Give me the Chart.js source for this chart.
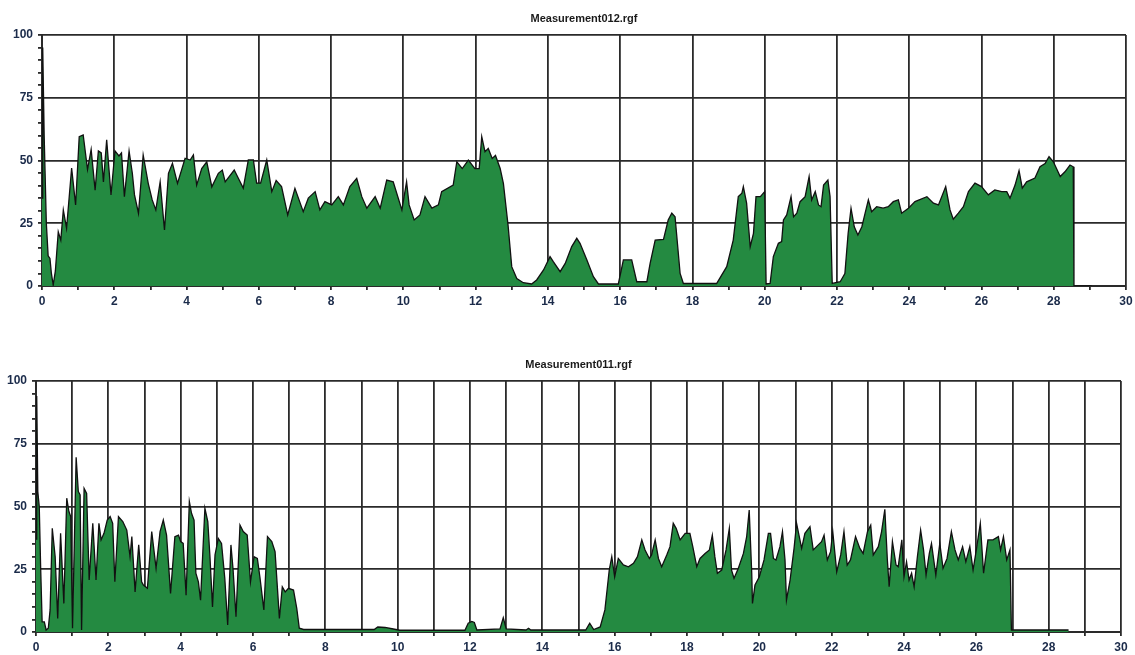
<!DOCTYPE html>
<html>
<head>
<meta charset="utf-8">
<script src="https://cdn.jsdelivr.net/npm/chart.js@4.4.1/dist/chart.umd.min.js"></script>
<style>
  html, body { margin: 0; padding: 0; background: #ffffff; overflow: hidden; }
  body { width: 1135px; height: 655px; position: relative; }
  canvas { position: absolute; left: 0; }
  #c1 { top: 0; }
  #c2 { top: 346px; }
</style>
</head>
<body>
<canvas id="c1" width="1162" height="318"></canvas>
<canvas id="c2" width="1157" height="315"></canvas>
<script>
// ---------- data ----------
const titleTop = "Measurement012.rgf";
const titleBottom = "Measurement011.rgf";

const topTime = [0,0.02,0.06,0.12,0.17,0.22,0.26,0.31,0.37,0.45,0.52,0.59,0.68,0.82,0.93,1.03,1.14,1.26,1.36,1.47,1.56,1.64,1.70,1.79,1.91,2.02,2.13,2.20,2.28,2.41,2.50,2.56,2.67,2.80,2.94,3.05,3.15,3.27,3.39,3.50,3.61,3.75,3.96,4.10,4.19,4.28,4.42,4.56,4.70,4.88,4.99,5.07,5.32,5.43,5.57,5.71,5.85,5.94,6.05,6.22,6.36,6.48,6.63,6.80,7.00,7.23,7.37,7.56,7.69,7.83,8.02,8.20,8.34,8.52,8.71,8.85,8.99,9.22,9.36,9.54,9.72,9.96,10.09,10.16,10.30,10.46,10.60,10.79,10.97,11.06,11.38,11.48,11.63,11.80,11.98,12.10,12.17,12.26,12.35,12.46,12.55,12.68,12.77,12.90,13.00,13.14,13.32,13.55,13.69,13.88,14.06,14.15,14.34,14.48,14.66,14.80,14.89,15.08,15.26,15.40,15.95,16.09,16.32,16.46,16.74,16.83,16.97,17.20,17.33,17.43,17.52,17.66,17.75,18.67,18.95,19.13,19.27,19.37,19.41,19.50,19.60,19.69,19.76,19.88,20.00,20.04,20.15,20.24,20.38,20.47,20.52,20.61,20.73,20.80,20.89,20.98,21.12,21.23,21.30,21.40,21.49,21.56,21.63,21.75,21.81,21.87,22.09,22.22,22.31,22.39,22.48,22.58,22.69,22.78,22.87,22.96,23.10,23.28,23.42,23.56,23.70,23.79,23.98,24.16,24.49,24.67,24.81,25.01,25.13,25.22,25.36,25.50,25.64,25.82,26.00,26.19,26.37,26.56,26.70,26.79,26.93,27.04,27.13,27.25,27.48,27.62,27.76,27.87,27.99,28.18,28.31,28.45,28.54,28.56,29.05];
const topLevel = [35,95,60,25,12,11,5,0.4,6,21.6,18.3,30.3,23,47,32.3,59.5,60.2,46.4,54.4,38.2,53.8,53,41.5,58.2,36.3,53.8,51.8,53,35.6,53.8,44.9,36.3,29,52.2,40.9,34.3,30.3,41.5,22.3,44.9,48.9,40.9,50.9,50.2,52.2,40.2,46.8,49.5,39.5,44.9,46.2,41.5,46.2,43,39,50.2,50.2,41,41,50.2,37.6,42,39.6,28.3,38.9,29.6,35,37.6,30.3,33.6,32.3,35.6,32.3,39.6,42.9,35.6,31,35.6,31,42.2,41.5,30.3,41.5,32.3,26.3,28.3,35.6,31,32.3,37.6,40.2,49.5,46.8,50.2,46.8,46.8,59.5,53.5,54.8,50.8,52,46.8,40.8,24,7.7,3,1.3,0.8,2.4,6.4,11.7,9.7,5.7,9,15.7,19,17,10.4,3.7,0.8,0.8,10.4,10.4,1.7,1.7,9,18.3,18.6,26.3,29,27.6,5,1,1,7.7,18.3,35.6,37,39.6,33,15.7,21,35.6,35.6,37.6,0.8,1,11.7,17,17.7,26.3,28.3,35.6,27.6,29,33.6,35.6,43.6,34.3,37.6,32.3,31.6,40.2,42.2,35.6,1,1.7,5,21,31,23.6,20.3,23.6,29,34.3,29.6,31.6,31,31.6,33.6,34.3,29,31,33.6,35.6,33,32.3,39.6,30.3,26.6,29,31.6,37.6,41,39.6,36.3,38.3,37.6,37.6,35,40.2,46,39,41.5,43,47.5,48.8,51.5,49.5,43.6,45.5,48.2,47.5,0,0];

const bottomTime = [0,0.02,0.05,0.09,0.13,0.17,0.23,0.28,0.34,0.39,0.45,0.53,0.60,0.68,0.77,0.85,0.91,0.96,1.01,1.11,1.17,1.22,1.26,1.33,1.40,1.47,1.57,1.66,1.74,1.80,1.88,1.97,2.05,2.12,2.18,2.28,2.40,2.51,2.60,2.65,2.74,2.84,2.92,2.97,3.08,3.20,3.32,3.43,3.52,3.61,3.72,3.84,3.94,4.00,4.07,4.15,4.24,4.30,4.37,4.42,4.49,4.55,4.67,4.75,4.81,4.88,4.95,5.04,5.13,5.22,5.30,5.39,5.45,5.53,5.64,5.73,5.84,5.93,6.03,6.12,6.19,6.30,6.40,6.52,6.61,6.73,6.81,6.89,6.98,7.12,7.21,7.28,7.40,9.35,9.45,9.65,9.88,10.06,11.86,11.95,12.05,12.12,12.19,12.83,12.92,13.00,13.55,13.62,13.68,15.20,15.31,15.42,15.60,15.73,15.85,15.92,16.00,16.10,16.24,16.38,16.52,16.63,16.75,16.84,16.96,17.02,17.12,17.21,17.30,17.44,17.53,17.62,17.70,17.81,17.95,18.08,18.16,18.27,18.36,18.50,18.62,18.70,18.77,18.84,18.96,19.08,19.17,19.23,19.30,19.42,19.56,19.65,19.72,19.79,19.81,19.88,20.00,20.13,20.25,20.31,20.39,20.46,20.57,20.64,20.71,20.75,20.85,20.96,21.03,21.17,21.26,21.40,21.49,21.63,21.72,21.79,21.88,21.97,22.03,22.14,22.25,22.34,22.43,22.52,22.66,22.78,22.87,22.99,23.08,23.15,23.29,23.38,23.47,23.54,23.59,23.68,23.78,23.84,23.94,24.00,24.07,24.14,24.21,24.28,24.37,24.46,24.54,24.61,24.70,24.76,24.88,24.99,25.08,25.19,25.31,25.41,25.50,25.62,25.71,25.82,25.91,26.00,26.11,26.20,26.32,26.46,26.61,26.67,26.75,26.84,26.93,26.97,28.55];
const bottomLevel = [37,94,56,50,25,4,4,0.8,1.5,8.8,41.3,30,5.4,39.3,11.4,53.3,48,46,1.5,69.6,56,54.6,0.8,57.2,55.2,20.7,43.3,20.7,43.3,36.7,39.3,44.6,46,43.3,20,46,44,40.6,30,38,16,34.7,20,18.7,17.4,40,25.4,40,44.6,38.6,15.4,38,38.6,36,35.3,14.7,52,47.3,44.6,23.4,20,12.7,49.3,44,30,10,30.7,37.3,35.3,21.4,2.8,34.7,24.7,6.1,42.6,40,38.6,20,30,29.3,22,8.8,38,36,32,5.4,18,16,17.4,16.7,9.4,1.5,1,1,2,1.8,1.2,0.7,0.7,3.5,4.2,3.8,0.8,1.2,5.7,1.2,0.8,1.5,0.8,0.8,3.5,1,2,8.8,24.7,30,22,29.3,26.7,26,27.4,30,36.7,32.7,29.3,30.7,36.7,29.3,26,30.7,34,43.3,41.3,36.7,39.3,39.3,34,26,29.3,31.3,32.7,38.6,30,23.4,24.7,32.7,41.3,24.7,21.4,25.4,31.3,38,48.6,23.4,11.4,18.7,22,28.7,39.3,39.3,29.3,28.7,34,40,28.7,12.7,20.7,33.3,43.3,33.3,39.3,42,32.7,34.7,36,38.6,28.7,32,40,24,30.7,40,26.7,28.7,38,33.3,31.3,40,42.6,30.7,34,40,48.9,28.7,18,36,26.7,26,36.7,22,28,20.7,23.4,18,30,40.6,32.7,22.7,31.3,35.3,22.7,35.3,25.4,29.3,40,32.7,28.7,34,28,34,24.7,32.7,43.3,23.4,36.7,36.7,38,32.7,38,28.7,32.7,0.8,0.8];

const yMajorStep = 25;    // labelled y ticks: 0, 25, 50, 75, 100
const yMinorStep = 5;     // small tick marks on the y axis
const xLabelStep = 2;     // labelled x ticks: 0, 2, ..., 30
const topGridStep = 2;    // vertical grid spacing, upper chart
const bottomGridStep = 1; // vertical grid spacing, lower chart

// ---------- styling ----------
Chart.defaults.font.family = "'Liberation Sans', Arial, sans-serif";
const GRID = '#2a2a2a';
const LABEL = '#1b2b4a';
const FILL = '#248a41';
const AXIS_W = 36; // width reserved for the y axis (mirrored on the right so the title centres over the plot)

function toPoints(xs, ys) { return xs.map((x, i) => ({ x: x, y: ys[i] })); }

function makeChart(id, title, xs, ys, gridStep, padL, padB) {
  const near = (v, s) => Math.abs(v / s - Math.round(v / s)) < 1e-6;
  return new Chart(document.getElementById(id), {
    type: 'line',
    data: {
      datasets: [{
        data: toPoints(xs, ys),
        yAxisID: 'y',
        borderColor: '#111111',
        borderWidth: 1.3,
        backgroundColor: FILL,
        fill: 'origin',
        pointRadius: 0,
        tension: 0
      }]
    },
    options: {
      responsive: false,
      animation: false,
      layout: { padding: { left: padL, right: 0, top: 0, bottom: padB } },
      plugins: {
        legend: { display: false },
        tooltip: { enabled: false },
        title: {
          display: true,
          text: title,
          color: '#1a1a1a',
          font: { size: 11, weight: 'bold' },
          padding: { top: 12.4, bottom: 9.4 }
        }
      },
      scales: {
        x: {
          type: 'linear',
          min: 0, max: 30,
          border: { display: true, color: GRID, width: 2 },
          grid: {
            color: (c) => near(c.tick.value, gridStep) ? GRID : 'rgba(0,0,0,0)',
            lineWidth: 1.8,
            tickColor: GRID,
            tickLength: 4,
            drawTicks: true
          },
          ticks: {
            stepSize: 1,
            autoSkip: false,
            maxRotation: 0,
            padding: 6,
            color: LABEL,
            font: { size: 12, weight: 'bold', lineHeight: 1.0 },
            callback: (v) => near(v, xLabelStep) ? String(v) : ''
          }
        },
        y: {
          position: 'left',
          min: 0, max: 100,
          afterFit: (s) => { s.width = AXIS_W; },
          border: { display: true, color: GRID, width: 2 },
          grid: {
            color: (c) => near(c.tick.value, yMajorStep) ? GRID : 'rgba(0,0,0,0)',
            lineWidth: 1.8,
            tickColor: GRID,
            tickLength: 4,
            drawTicks: true
          },
          ticks: {
            stepSize: yMinorStep,
            autoSkip: false,
            padding: 5,
            color: LABEL,
            font: { size: 12, weight: 'bold' },
            callback: (v) => near(v, yMajorStep) ? String(v) : ''
          }
        },
        yRight: {
          position: 'right',
          min: 0, max: 100,
          afterFit: (s) => { s.width = AXIS_W; },
          border: { display: false },
          grid: { display: false, drawTicks: false },
          ticks: { display: false }
        }
      }
    }
  });
}

makeChart('c1', titleTop, topTime, topLevel, topGridStep, 6, 4);
makeChart('c2', titleBottom, bottomTime, bottomLevel, bottomGridStep, 0, 1);
</script>
</body>
</html>
